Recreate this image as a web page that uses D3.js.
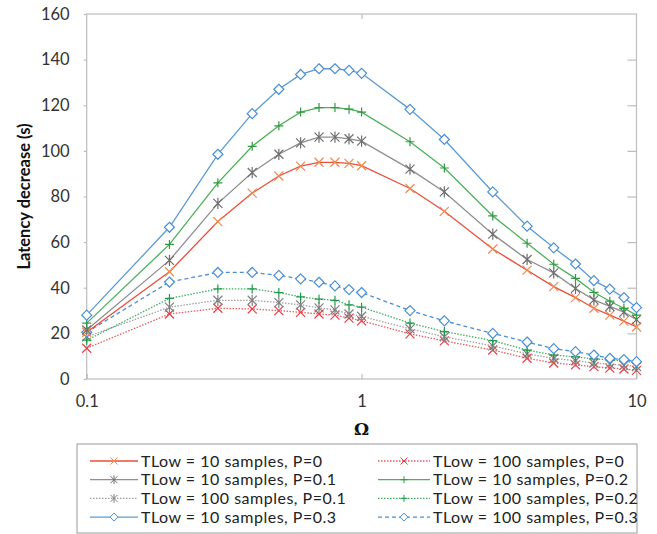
<!DOCTYPE html>
<html>
<head>
<meta charset="utf-8">
<script src="https://cdn.jsdelivr.net/npm/d3@7/dist/d3.min.js"></script>
<style>
  html, body { margin: 0; padding: 0; background: #fff; }
  svg { display: block; font-family: Lato, "Open Sans", sans-serif; }
</style>
</head>
<body>
<svg id="chart" width="657" height="534"></svg>
<script>
// Omega values on the log-scaled x axis
const omega = [0.1, 0.2, 0.3, 0.4, 0.5, 0.6, 0.7, 0.8, 0.9, 1, 1.5, 2, 3, 4, 5, 6, 7, 8, 9, 10];

// Latency decrease (s), one array per configuration
const tlow10P0   = [20.5, 47, 69, 81.5, 89, 93.3, 95, 95, 94.5, 93.5, 83.5, 73.5, 57, 47.7, 40.5, 35.7, 31, 28, 25.4, 22.8];
const tlow10P01  = [21.5, 52, 77, 90.5, 98.5, 103.5, 106, 106, 105.3, 104.3, 92, 82, 63.5, 52.4, 46.5, 39.7, 34.7, 31.8, 29.3, 26];
const tlow10P02  = [24.5, 59, 86, 102, 111, 117, 119, 119, 118.3, 117, 104, 92.5, 71.5, 59.5, 50.3, 44.1, 38, 34.1, 31, 28];
const tlow10P03  = [28, 66.5, 98.5, 116.3, 127, 133.5, 136, 136, 135.3, 134, 118.2, 105, 82, 67, 57.5, 50.4, 43.1, 39.4, 35.7, 31.3];
const tlow100P0  = [13.5, 28.5, 31, 30.7, 30, 29.2, 28.5, 28, 26.7, 25.5, 19.8, 16.7, 12.7, 9.1, 7, 6.2, 5.4, 4.8, 4.4, 3.8];
const tlow100P01 = [18.5, 31.5, 34.5, 34.5, 33.5, 32.5, 31.2, 30.3, 28.5, 27.5, 22, 18.5, 14.5, 11, 9, 8, 7, 6.5, 6, 5.5];
const tlow100P02 = [17, 35.3, 39.5, 39.5, 37.9, 36, 35, 34.5, 32.5, 31.5, 24.5, 20.8, 16.8, 12.7, 10.5, 9.7, 8.8, 8.4, 7.9, 7];
const tlow100P03 = [20.5, 42.5, 46.7, 46.7, 45.4, 43.9, 42.4, 40.8, 39.2, 37.9, 30, 25.5, 20, 16.2, 13.3, 12, 10.5, 9.1, 8.5, 7.6];

// Axis ticks
const yTicks = [0, 20, 40, 60, 80, 100, 120, 140, 160];
const xTicks = [0.1, 1, 10];
const xTickLabels = ["0.1", "1", "10"];

// Series styling, listed in legend order (left column then right column)
const series = [
  { name: "TLow = 10 samples, P=0",    values: tlow10P0,   color: "#e8503c", mcolor: "#f08a50", dash: null,  marker: "x" },
  { name: "TLow = 10 samples, P=0.1",  values: tlow10P01,  color: "#8f8f8f", mcolor: "#6f6f6f", dash: null,  marker: "star" },
  { name: "TLow = 100 samples, P=0.1", values: tlow100P01, color: "#a0a0a0", mcolor: "#808080", dash: "1.5,1.5", marker: "star" },
  { name: "TLow = 10 samples, P=0.3",  values: tlow10P03,  color: "#5b9bd5", mcolor: "#4a8fd6", dash: null,  marker: "diamond" },
  { name: "TLow = 100 samples, P=0",   values: tlow100P0,  color: "#ef5a5a", mcolor: "#e8404a", dash: "1.5,1.5", marker: "x" },
  { name: "TLow = 10 samples, P=0.2",  values: tlow10P02,  color: "#4cb05a", mcolor: "#2f9a40", dash: null,  marker: "plus" },
  { name: "TLow = 100 samples, P=0.2", values: tlow100P02, color: "#3fb060", mcolor: "#21994a", dash: "1.5,1.5", marker: "plus" },
  { name: "TLow = 100 samples, P=0.3", values: tlow100P03, color: "#4a8fd6", mcolor: "#4a8fd6", dash: "4,3", marker: "diamond" }
];
// Drawing order so that the upper solid curves sit on top
const drawOrder = [4, 2, 6, 7, 0, 1, 5, 3];

const svg = d3.select("#chart");
const W = 657, H = 534;
svg.append("rect").attr("width", W).attr("height", H).attr("fill", "#fff");

const plot = { left: 86.7, right: 636.5, top: 14, bottom: 379 };
const x = d3.scaleLog().domain([0.1, 10]).range([plot.left, plot.right]);
const y = d3.scaleLinear().domain([0, 160]).range([plot.bottom, plot.top]);

const frameColor = "#bdbdbd";

// Plot frame
svg.append("rect")
  .attr("x", plot.left).attr("y", plot.top)
  .attr("width", plot.right - plot.left).attr("height", plot.bottom - plot.top)
  .attr("fill", "none").attr("stroke", frameColor).attr("stroke-width", 1.2);

// Left axis with labels
svg.append("g")
  .attr("transform", `translate(${plot.left},0)`)
  .call(d3.axisLeft(y).tickValues(yTicks).tickSizeInner(3).tickSizeOuter(0).tickPadding(14));
// Right axis: inward ticks only
svg.append("g")
  .attr("transform", `translate(${plot.right},0)`)
  .call(d3.axisRight(y).tickValues(yTicks.slice(1, -1)).tickSizeInner(-9).tickSizeOuter(0).tickFormat(""));
// Bottom axis with labels
svg.append("g")
  .attr("transform", `translate(0,${plot.bottom})`)
  .call(d3.axisBottom(x).tickValues(xTicks).tickSizeInner(-5).tickSizeOuter(0)
    .tickFormat((d, i) => xTickLabels[i]).tickPadding(16));
// Top axis: inward tick at 1
svg.append("g")
  .attr("transform", `translate(0,${plot.top})`)
  .call(d3.axisTop(x).tickValues([1]).tickSizeInner(-5).tickSizeOuter(0).tickFormat(""));

svg.selectAll(".domain").attr("stroke", "none");
svg.selectAll(".tick line").attr("stroke", frameColor).attr("stroke-width", 1.2);
svg.selectAll(".tick text")
  .attr("fill", "#333").style("font-family", "Lato, sans-serif").style("font-size", "16.5px");

// Axis titles
svg.append("text")
  .attr("transform", `translate(30,${(plot.top + plot.bottom) / 2}) rotate(-90)`)
  .attr("text-anchor", "middle")
  .style("font-size", "16.5px").style("font-weight", "bold").attr("fill", "#111")
  .text("Latency decrease (s)");
svg.append("text")
  .attr("x", x(1)).attr("y", 435)
  .attr("text-anchor", "middle")
  .style("font-size", "17px").style("font-weight", "bold").attr("fill", "#111")
  .style("font-family", "'DejaVu Serif', serif")
  .text("Ω");

// Marker outlines centred on the origin
function markerPath(type, r) {
  switch (type) {
    case "x":
      return `M${-r},${-r}L${r},${r}M${-r},${r}L${r},${-r}`;
    case "plus":
      return `M${-r},0L${r},0M0,${-r}L0,${r}`;
    case "star":
      return `M${-r},${-r}L${r},${r}M${-r},${r}L${r},${-r}M0,${-r * 1.25}L0,${r * 1.25}`;
    case "diamond":
      return `M0,${-r}L${r},0L0,${r}L${-r},0Z`;
  }
}

const line = d3.line().x(d => x(d[0])).y(d => y(d[1]));

drawOrder.forEach(i => {
  const s = series[i];
  const pts = omega.map((o, k) => [o, s.values[k]]);
  const g = svg.append("g");
  g.append("path")
    .attr("d", line(pts))
    .attr("fill", "none")
    .attr("stroke", s.color)
    .attr("stroke-width", 1.3)
    .attr("stroke-dasharray", s.dash);
  g.selectAll("path.m").data(pts).join("path")
    .attr("class", "m")
    .attr("transform", d => `translate(${x(d[0])},${y(d[1])})`)
    .attr("d", markerPath(s.marker, s.marker === "diamond" ? 5 : 4.5))
    .attr("fill", s.marker === "diamond" ? "#fff" : "none")
    .attr("stroke", s.mcolor)
    .attr("stroke-width", 1.2);
});

// Legend
const legend = { left: 77, top: 444, right: 637, bottom: 533 };
svg.append("rect")
  .attr("x", legend.left).attr("y", legend.top)
  .attr("width", legend.right - legend.left).attr("height", legend.bottom - legend.top)
  .attr("fill", "#fff").attr("stroke", "#9a9a9a").attr("stroke-width", 1);

const cols = [{ x0: 90, x1: 138, tx: 141 }, { x0: 378, x1: 430, tx: 433 }];
series.forEach((s, i) => {
  const c = cols[Math.floor(i / 4)];
  const cy = 461 + (i % 4) * 18.7;
  const g = svg.append("g");
  g.append("line")
    .attr("x1", c.x0).attr("x2", c.x1).attr("y1", cy).attr("y2", cy)
    .attr("stroke", s.color).attr("stroke-width", 1.3)
    .attr("stroke-dasharray", s.dash);
  g.append("path")
    .attr("transform", `translate(${(c.x0 + c.x1) / 2},${cy})`)
    .attr("d", markerPath(s.marker, s.marker === "diamond" ? 4 : 3.5))
    .attr("fill", s.marker === "diamond" ? "#fff" : "none")
    .attr("stroke", s.mcolor).attr("stroke-width", 1);
  g.append("text")
    .attr("x", c.tx).attr("y", cy).attr("dy", "0.35em")
    .style("font-size", "16px").style("letter-spacing", "0.5px").attr("fill", "#222")
    .text(s.name);
});
</script>
</body>
</html>
